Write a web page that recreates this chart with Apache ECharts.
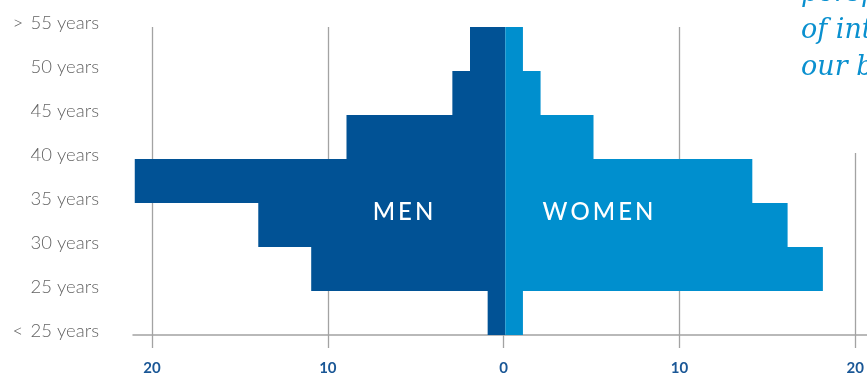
<!DOCTYPE html>
<html>
<head>
<meta charset="utf-8">
<script src="https://cdn.jsdelivr.net/npm/echarts@6/dist/echarts.min.js"></script>
<style>
html,body{margin:0;padding:0;background:#fff;}
#chart{width:867px;height:376px;}
</style>
</head>
<body>
<div id="chart"></div>
<script>
// Age bands (bottom to top), bars sit between boundary labels
const bands = ['<25-25', '25-30', '30-35', '35-40', '40-45', '45-50', '50-55+'];
// Boundary labels (bottom to top)
const ageLabels = ['<\u2009 25 years', '25 years', '30 years', '35 years', '40 years', '45 years', '50 years', '>\u2009 55 years'];
const men = [1, 11, 14, 21, 9, 3, 2];
const women = [1, 18, 16, 14, 5, 2, 1];
const tickValues = [-20, -10, 0, 10, 20];

const MEN_COLOR = '#015295';
const WOMEN_COLOR = '#008fce';
const GRID_COLOR = '#a3a3a3';

const chart = echarts.init(document.getElementById('chart'), null, {renderer: 'canvas'});
chart.setOption({
  animation: false,
  backgroundColor: '#ffffff',
  grid: [
    {left: 133, right: 0, top: 27, bottom: 41},
    {left: 152, right: 9, top: 27, bottom: 41},
    {left: 133, right: 0, top: 23.5, bottom: 44.5}
  ],
  xAxis: [
    {gridIndex: 0, type: 'value', min: -21.1, max: 20.5,
      axisLine: {show: true, onZero: false, lineStyle: {color: GRID_COLOR, width: 1.5}},
      axisTick: {show: false}, axisLabel: {show: false}, splitLine: {show: false}},
    {gridIndex: 1, type: 'value', min: tickValues[0], max: tickValues[tickValues.length - 1], interval: 10,
      axisLine: {show: false},
      axisTick: {show: true, length: 15, lineStyle: {color: GRID_COLOR, width: 1.3}},
      axisLabel: {show: true, margin: 28, color: '#1a5796', fontSize: 15, fontWeight: 'bold',
        fontFamily: 'Lato', formatter: v => String(Math.abs(v))},
      splitLine: {show: true, lineStyle: {color: GRID_COLOR, width: 1.3}}},
    {gridIndex: 2, type: 'value', show: false}
  ],
  yAxis: [
    {gridIndex: 0, type: 'category', data: bands, boundaryGap: true, show: false},
    {gridIndex: 1, type: 'value', show: false},
    {gridIndex: 2, type: 'category', data: ageLabels, boundaryGap: false,
      axisLine: {show: false}, axisTick: {show: false}, splitLine: {show: false},
      axisLabel: {show: true, margin: 34, color: '#646464', fontSize: 18.5, fontFamily: 'Lato', fontWeight: 300}}
  ],
  series: [
    {name: 'Men', type: 'bar', xAxisIndex: 0, yAxisIndex: 0, data: men.map(v => -v),
      barWidth: '100%', barGap: '-100%', itemStyle: {color: MEN_COLOR}, silent: true},
    {name: 'Women', type: 'bar', xAxisIndex: 0, yAxisIndex: 0, data: women,
      barWidth: '100%', barGap: '-100%', itemStyle: {color: WOMEN_COLOR}, silent: true}
  ],
  graphic: [
    {type: 'rect', left: 792, top: 0, shape: {width: 75, height: 153}, style: {fill: '#ffffff'}, z: 10},
    {type: 'text', left: 801, top: -25, z: 11, style: {
      text: 'perspectives\nof interest to\nour business', fill: '#0a90cf',
      font: 'italic 27px "DejaVu Serif"', lineHeight: 37}},
    {type: 'text', x: 403, y: 212, z: 12, style: {
      text: 'M\u2009E\u2009N', fill: '#ffffff', font: '500 24px Lato', align: 'center', verticalAlign: 'middle'}},
    {type: 'text', x: 598, y: 212, z: 12, style: {
      text: 'W\u2009O\u2009M\u2009E\u2009N', fill: '#ffffff', font: '500 24px Lato', align: 'center', verticalAlign: 'middle'}}
  ]
});
</script>
</body>
</html>
